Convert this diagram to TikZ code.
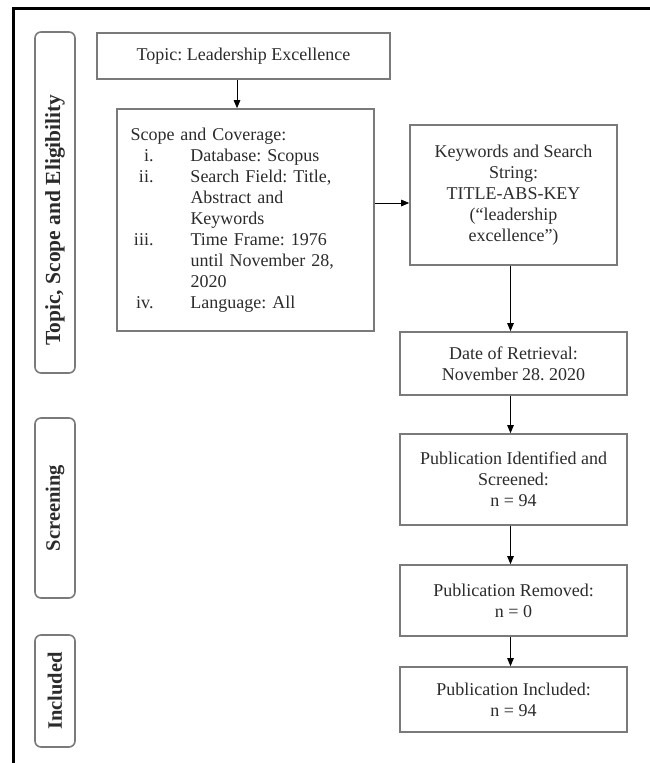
\documentclass[tikz,border=0pt]{standalone}
\usepackage{fontspec}
\setmainfont{Liberation Serif}
\usetikzlibrary{arrows.meta}
\definecolor{boxline}{HTML}{7A7A7A}
\definecolor{txt}{HTML}{2B2B2B}
\newcommand{\scopeitem}[1]{\makebox[23pt][r]{#1}\hspace*{37pt}}
\frenchspacing
\begin{document}
\begin{tikzpicture}[x=1pt,y=-1pt,
  box/.style={draw=boxline, line width=1.6pt, rectangle, inner sep=0pt, align=center, text=txt, font=\fontsize{18}{21}\selectfont},
  side/.style={draw=boxline, line width=1.6pt, rounded corners=6pt, inner sep=0pt},
  sidelabel/.style={rotate=90, font=\fontsize{20.5}{24}\selectfont\bfseries, text=txt, inner sep=0pt},
  arr/.style={draw=black, line width=0.9pt, -{Triangle[length=8pt,width=6.5pt]}},
  frameline/.style={draw=black, line width=3.4pt, line join=miter}
]
\useasboundingbox (0,0) rectangle (649,763);
% outer frame
\coordinate (fbl) at (13.3,770);
\coordinate (ftl) at (13.3,8.5);
\coordinate (ftr) at (660,8.5);
\draw[frameline] (fbl) -- (ftl) -- (ftr);
% side boxes
\node[side, minimum width=40, minimum height=341] (s1) at (55,202.5) {};
\node[sidelabel, font=\fontsize{21.5}{24}\selectfont\bfseries] (l1) at (55,220) {Topic, Scope and Eligibility};
\node[side, minimum width=40, minimum height=180] (s2) at (55,508) {};
\node[sidelabel] (l2) at (55,508) {Screening};
\node[side, minimum width=40, minimum height=112] (s3) at (55,691) {};
\node[sidelabel] (l3) at (55,691) {Included};
% main boxes
\node[box, minimum width=293, minimum height=46] (topic) at (243.5,56) {Topic: Leadership Excellence};
\node[box, minimum width=257, minimum height=222, text width=230pt, align=left] (scope) at (245.5,220) {Scope and Coverage:\\
\scopeitem{i.}Database: Scopus\\
\scopeitem{ii.}Search Field: Title,\\
\scopeitem{}Abstract and\\
\scopeitem{}Keywords\\
\scopeitem{iii.}Time Frame: 1976\\
\scopeitem{}until November 28,\\
\scopeitem{}2020\\
\scopeitem{iv.}Language: All};
\node[box, minimum width=207, minimum height=140] (kw) at (513.5,195) {Keywords and Search\\String:\\TITLE-ABS-KEY\\(“leadership\\excellence”)};
\node[box, minimum width=227, minimum height=63] (date) at (513.5,363.5) {Date of Retrieval:\\November 28. 2020};
\node[box, minimum width=227, minimum height=91] (pid) at (513.5,479.5) {Publication Identified and\\Screened:\\n = 94};
\node[box, minimum width=227, minimum height=71] (prem) at (513.5,600.5) {Publication Removed:\\n = 0};
\node[box, minimum width=227, minimum height=65] (pinc) at (513.5,699.5) {Publication Included:\\n = 94};
% connectors
\draw[arr] ([xshift=-6.5pt]topic.south) -- ([xshift=-6.5pt]topic.south |- scope.north);
\draw[arr] ([yshift=17pt]scope.east) -- ([yshift=17pt]scope.east -| kw.west);
\draw[arr] ([xshift=-3pt]kw.south) -- ([xshift=-3pt]date.north);
\draw[arr] ([xshift=-3pt]date.south) -- ([xshift=-3pt]pid.north);
\draw[arr] ([xshift=-3pt]pid.south) -- ([xshift=-3pt]prem.north);
\draw[arr] ([xshift=-3pt]prem.south) -- ([xshift=-3pt]pinc.north);
\end{tikzpicture}
\end{document}
